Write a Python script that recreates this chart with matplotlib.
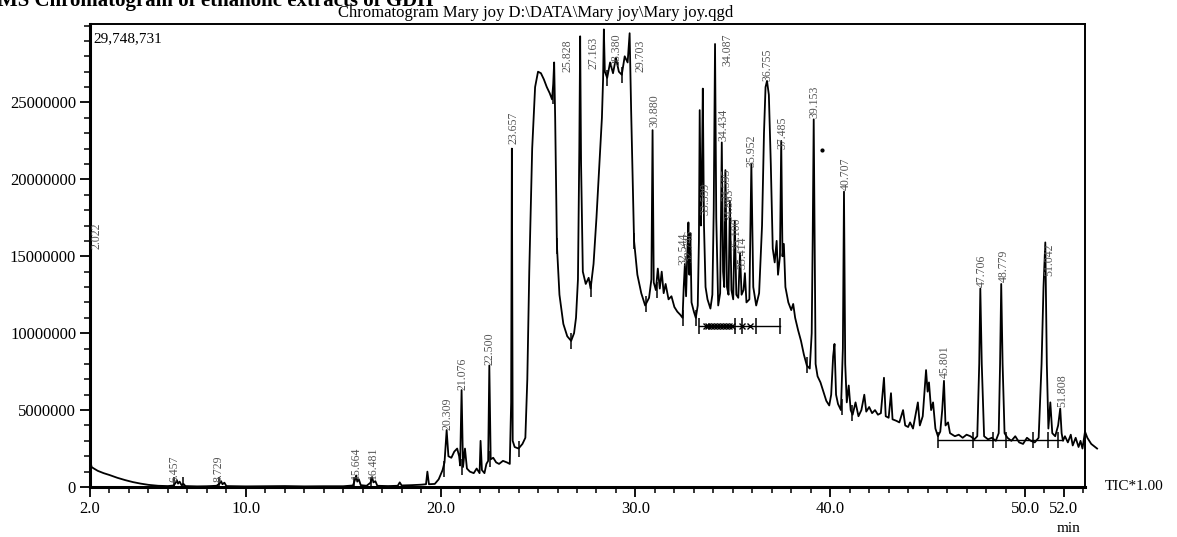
import matplotlib
matplotlib.use("Agg")
import matplotlib.pyplot as plt
from matplotlib.ticker import MultipleLocator, FixedLocator, FuncFormatter

plt.rcParams['font.family'] = ['Liberation Serif', 'DejaVu Serif']

# retention time (min) and TIC intensity (millions)
rt = [2.000, 2.008, 2.022, 2.034, 2.05, 2.08, 2.2, 2.4, 2.7, 3.0, 3.4, 3.8, 4.2, 4.6, 5.0, 5.5,
      6.0, 6.3, 6.4, 6.457, 6.52, 6.6, 6.7, 6.8, 6.9, 7.5, 8.0, 8.5, 8.65, 8.729, 8.8, 8.9, 9.0,
      10.0, 11.0, 12.0, 13.0, 14.0, 15.0, 15.5, 15.6, 15.664, 15.72, 15.8, 15.9, 16.2, 16.4,
      16.481, 16.55, 16.65, 16.75, 17.3, 17.8, 17.9, 18.0, 18.5, 19.0, 19.25, 19.32, 19.4, 19.7,
      19.9, 20.1, 20.2, 20.309, 20.4, 20.55, 20.7, 20.85, 20.95, 21.0, 21.076, 21.15, 21.25,
      21.35, 21.5, 21.7, 21.85, 22.0, 22.05, 22.12, 22.25, 22.35, 22.44, 22.5, 22.57, 22.7,
      22.85, 23.0, 23.2, 23.4, 23.55, 23.62, 23.657, 23.70, 23.8, 24.0, 24.2, 24.35,
      24.45, 24.55, 24.7, 24.85, 25.0, 25.15, 25.3, 25.45, 25.6, 25.72, 25.78, 25.828, 25.88,
      25.97, 26.1, 26.3, 26.5, 26.7, 26.85, 26.95, 27.05, 27.12, 27.163, 27.21, 27.3, 27.45,
      27.6, 27.7, 27.85, 28.0, 28.15, 28.28, 28.34, 28.38, 28.43, 28.55, 28.7, 28.85, 29.0,
      29.15, 29.3, 29.45, 29.6, 29.703, 29.78, 29.93, 30.1, 30.3, 30.5, 30.7, 30.82, 30.88,
      30.94, 31.05, 31.15, 31.25, 31.35, 31.45, 31.55, 31.7, 31.85, 32.0, 32.15, 32.3, 32.42,
      32.48, 32.54, 32.6, 32.66, 32.72, 32.77, 32.82, 32.88, 33.0, 33.1, 33.2, 33.26, 33.3,
      33.36, 33.41, 33.46, 33.52, 33.6, 33.7, 33.85, 33.95, 34.02, 34.087, 34.15, 34.25, 34.35,
      34.434, 34.5, 34.56, 34.62, 34.7, 34.78, 34.85, 34.93, 35.02, 35.1, 35.18, 35.28, 35.37,
      35.45, 35.55, 35.62, 35.7, 35.85, 35.952, 36.05, 36.2, 36.35, 36.5, 36.6, 36.68, 36.755,
      36.85, 36.95, 37.05, 37.15, 37.25, 37.32, 37.42, 37.485, 37.55, 37.62, 37.7, 37.85, 38.0,
      38.1, 38.2, 38.35, 38.5, 38.65, 38.8, 38.95, 39.05, 39.1, 39.153, 39.2, 39.25, 39.35,
      39.5, 39.65, 39.8, 39.95, 40.05, 40.15, 40.22, 40.3, 40.4, 40.55, 40.65, 40.707, 40.77,
      40.85, 40.95, 41.05, 41.15, 41.3, 41.45, 41.6, 41.75, 41.85, 42.0, 42.15, 42.3, 42.45,
      42.6, 42.76, 42.85, 43.0, 43.12, 43.2, 43.4, 43.55, 43.74, 43.85, 44.0, 44.1, 44.25,
      44.5, 44.6, 44.75, 44.92, 45.0, 45.07, 45.18, 45.28, 45.4, 45.53, 45.65, 45.75, 45.84,
      45.92, 46.05, 46.15, 46.4, 46.6, 46.8, 47.0, 47.2, 47.4, 47.55, 47.65, 47.706, 47.78,
      47.9, 48.1, 48.3, 48.5, 48.65, 48.72, 48.779, 48.85, 48.95, 49.1, 49.3, 49.5, 49.7, 49.9,
      50.1, 50.3, 50.5, 50.7, 50.85, 50.95, 51.042, 51.12, 51.2, 51.3, 51.4, 51.55, 51.7,
      51.808, 51.88, 51.95, 52.05, 52.2, 52.35, 52.45, 52.6, 52.75, 52.85, 52.95, 53.08, 53.2,
      53.4, 53.7]
tic = [0.0, 8.0, 15.3, 7.0, 1.5, 1.3, 1.2, 1.05, 0.9, 0.78, 0.6, 0.45, 0.32, 0.22, 0.14, 0.08,
       0.06, 0.1, 0.28, 0.45, 0.22, 0.35, 0.12, 0.2, 0.06, 0.04, 0.05, 0.08, 0.22, 0.38, 0.18, 0.28, 0.06,
       0.04, 0.05, 0.06, 0.04, 0.05, 0.05, 0.1, 0.45, 0.75, 0.35, 0.5, 0.12, 0.08, 0.28,
       0.65, 0.3, 0.38, 0.08, 0.06, 0.08, 0.3, 0.1, 0.12, 0.15, 0.18, 1.0, 0.18, 0.2,
       0.5, 1.1, 1.6, 3.7, 2.0, 1.9, 2.3, 2.5, 2.0, 1.4, 6.3, 1.3, 2.5,
       1.2, 1.0, 0.9, 1.2, 0.9, 3.0, 1.1, 0.9, 1.5, 1.7, 7.9, 1.8, 1.9,
       1.6, 1.5, 1.7, 1.6, 1.5, 5.5, 22.0, 3.0, 2.6, 2.5, 2.8, 3.2,
       7.0, 14.0, 22.0, 26.0, 27.0, 26.9, 26.5, 26.0, 25.6, 25.2, 26.2, 27.6, 24.0,
       15.7, 12.5, 10.6, 9.8, 9.5, 10.0, 11.0, 13.5, 22.0, 29.3, 21.0, 14.0, 13.2,
       13.6, 12.9, 14.5, 17.5, 21.0, 24.0, 26.5, 29.75, 27.0, 26.6, 27.6, 26.9, 27.9,
       27.0, 26.8, 28.0, 27.6, 29.5, 24.5, 16.0, 13.8, 12.6, 11.8, 12.3, 13.5, 23.2,
       13.3, 12.8, 14.2, 12.9, 14.0, 12.6, 13.2, 12.2, 12.4, 11.7, 11.4, 11.2, 11.0,
       13.0, 14.5, 12.4, 15.0, 17.2, 13.8, 16.5, 12.0, 11.4, 11.0, 11.8, 16.0, 24.5,
       17.0, 20.0, 25.9, 17.0, 13.0, 12.2, 11.6, 12.5, 18.0, 28.8, 17.5, 11.8, 12.6,
       22.4, 14.0, 13.0, 20.6, 13.0, 12.5, 18.6, 12.8, 12.2, 17.3, 12.5, 12.3, 15.2,
       12.5, 12.8, 13.9, 12.0, 12.2, 21.0, 13.0, 11.8, 12.6, 17.0, 23.0, 26.0, 26.4,
       25.5, 21.0, 15.5, 14.6, 16.0, 13.8, 15.0, 22.5, 15.0, 15.8, 13.0, 12.0, 11.5,
       11.9, 11.0, 10.2, 9.5, 8.6, 7.9, 7.7, 10.0, 16.0, 23.9, 16.0, 8.0, 7.2,
       6.8, 6.2, 5.6, 5.3, 6.0, 8.5, 9.3, 6.0, 5.4, 5.0, 9.0, 19.2, 8.0,
       5.5, 6.6, 5.0, 4.7, 5.5, 4.6, 5.0, 6.0, 4.9, 5.2, 4.8, 5.0, 4.7,
       4.8, 7.1, 4.6, 4.5, 6.1, 4.4, 4.3, 4.2, 5.0, 4.0, 3.9, 4.2, 3.8,
       5.5, 4.0, 4.6, 7.6, 6.2, 6.8, 5.0, 5.5, 3.8, 3.3, 3.6, 5.0, 6.9,
       4.0, 4.2, 3.5, 3.3, 3.4, 3.2, 3.4, 3.3, 3.1, 3.3, 8.0, 12.9, 8.0,
       3.3, 3.1, 3.2, 3.0, 3.5, 8.0, 13.2, 8.0, 3.5, 3.2, 3.0, 3.3, 2.9, 2.8,
       3.2, 3.0, 2.9, 3.2, 8.0, 13.0, 15.9, 8.0, 3.8, 5.5, 3.5, 3.3, 4.0,
       5.1, 3.5, 3.0, 3.3, 2.9, 3.4, 2.7, 3.2, 2.6, 3.0, 2.5, 3.6, 3.2,
       2.8, 2.5]

# peak start/end marks
mark_t = [2.05, 6.3, 6.75, 8.6, 15.55, 16.45, 20.15, 21.12, 22.55, 24.0, 25.75, 25.97, 26.7,
          27.7, 28.55, 29.3, 29.93, 30.55, 31.1, 32.45, 33.1, 33.25, 35.1, 35.45, 36.2, 37.4,
          38.8, 40.6, 41.1, 45.53, 47.35, 48.35, 49.05, 50.4, 51.18, 51.7]
mark_i = [1.4, 0.1, 0.1, 0.1, 0.1, 0.1, 1.2, 1.3, 1.8, 2.5, 25.4, 15.7, 9.5,
          12.9, 26.6, 26.8, 16.0, 11.9, 12.8, 11.0, 11.0, 10.45, 10.45, 10.45, 10.45, 10.45,
          7.9, 5.2, 4.8, 3.05, 3.05, 3.05, 3.05, 3.05, 3.05, 3.05]
cross_t = [33.6, 33.75, 33.9, 34.05, 34.2, 34.35, 34.5, 34.65, 34.8, 34.95, 35.45, 35.9]
base1 = ([33.25, 37.4], [10.45, 10.45])
base2 = ([45.53, 51.85], [3.05, 3.05])

peak_names = ["2.022", "6.457", "8.729", "15.664", "16.481", "20.309", "21.076", "22.500",
              "23.657", "25.828", "27.163", "28.380", "29.703", "30.880", "32.544", "32.746",
              "33.599", "34.087", "34.434", "34.595", "34.863", "35.100", "35.414", "35.952",
              "36.755", "37.485", "39.153", "40.707", "45.801", "47.706", "48.779", "51.042",
              "51.808"]
# where each label sits (min, millions at label foot)
label_at = [(2.33, 15.5), (6.33, 0.35), (8.58, 0.35), (15.66, 0.55), (16.53, 0.5),
            (20.33, 3.7), (21.1, 6.3), (22.53, 7.9), (23.72, 22.3), (26.5, 27.0),
            (27.85, 27.2), (29.05, 27.4), (30.25, 27.0), (30.98, 23.4), (32.45, 14.4),
            (32.75, 14.6), (33.62, 17.7), (34.72, 27.4), (34.5, 22.5), (34.65, 18.6),
            (34.85, 17.3), (35.2, 15.4), (35.5, 14.2), (35.98, 20.8), (36.8, 26.4),
            (37.55, 22.0), (39.2, 24.0), (40.78, 19.3), (45.9, 7.1), (47.8, 13.0),
            (48.9, 13.3), (51.25, 13.7), (51.9, 5.2)]

M = 1e6
W, H = 1177, 537
fig = plt.figure(figsize=(W / 100, H / 100), dpi=100)
ax = fig.add_axes([90 / W, 50 / H, 995 / W, 463 / H])

ax.plot(rt, [v * M for v in tic], color='black', lw=1.3, clip_on=False, zorder=3)
ax.plot(base1[0], [v * M for v in base1[1]], color='black', lw=1.0)
ax.plot(base2[0], [v * M for v in base2[1]], color='black', lw=1.0)
ax.plot(mark_t, [v * M for v in mark_i], ls='none', marker='|', ms=11, mew=1.1, color='black')
ax.plot(cross_t, [10.45 * M] * len(cross_t), ls='none', marker='x', ms=5, mew=1.0, color='black')
ax.plot([39.6], [21.9 * M], ls='none', marker='o', ms=2, color='black')

for name, (lt, li) in zip(peak_names, label_at):
    ax.text(lt, li * M, name, rotation=90, ha='center', va='bottom', fontsize=8.5,
            color='#555555')

ax.set_xlim(2, 53.08)
ax.set_ylim(0, 30.1 * M)

ax.xaxis.set_major_locator(FixedLocator([2, 10, 20, 30, 40, 50, 52]))
ax.set_xticklabels(['2.0', '10.0', '20.0', '30.0', '40.0', '50.0', '52.0'])
ax.xaxis.set_minor_locator(MultipleLocator(1))
ax.yaxis.set_major_locator(FixedLocator([0, 5 * M, 10 * M, 15 * M, 20 * M, 25 * M]))
ax.yaxis.set_minor_locator(MultipleLocator(1 * M))
ax.yaxis.set_major_formatter(FuncFormatter(lambda v, p: '%d' % v))
ax.tick_params(which='major', direction='out', length=7, width=1.3, labelsize=12, pad=3)
ax.tick_params(which='minor', direction='out', length=4, width=1.1)

ax.spines['left'].set_linewidth(2.2)
ax.spines['bottom'].set_linewidth(2.2)
ax.spines['top'].set_linewidth(1.4)
ax.spines['right'].set_linewidth(1.4)

ax.text(0.003, 0.982, '29,748,731', transform=ax.transAxes, ha='left', va='top', fontsize=11)
fig.text(536 / W, 1 - 13 / H, r'Chromatogram Mary joy D:\DATA\Mary joy\Mary joy.qgd',
         ha='center', va='center', fontsize=12)
fig.text(-0.002, 1 - 6 / H, 'MS Chromatogram of ethanolic extracts of GDH', ha='left',
         va='baseline', fontsize=15, fontweight='bold')
fig.text(1105 / W, 1 - 487 / H, 'TIC*1.00', ha='left', va='center', fontsize=11)
fig.text(1069 / W, 1 - 528 / H, 'min', ha='center', va='center', fontsize=11)

fig.savefig('out.png', dpi=100)
